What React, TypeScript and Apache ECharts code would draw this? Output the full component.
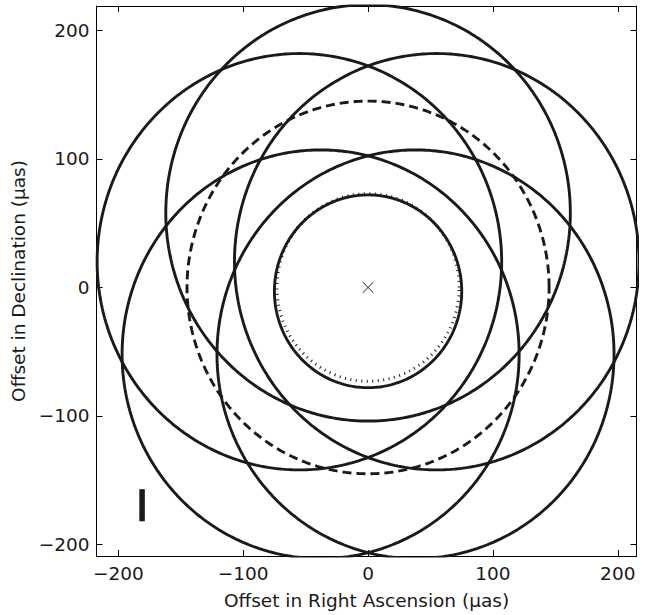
import { useEffect, useRef } from "react";
import * as echarts from "echarts";

// Solid rings: centre offsets and radii (μas)
const ringCenterX = [0, -55, 55, -38, 38, 0];
const ringCenterY = [58, 20, 20, -52, -52, -3];
const ringRadius = [162, 162, 162, 159, 159, 75];

// Reference rings centred on the origin
const dashedRadius = 145;
const dottedRadius = 73;

// Axis ticks
const xTickValues = [-200, -100, 0, 100, 200];
const yTickValues = [-200, -100, 0, 100, 200];

// Scale bar in the lower-left corner
const scaleBarX = [-181, -181];
const scaleBarY = [-182, -157];

const INK = "#1a1a1a";
const FONT = "DejaVu Sans";

function ringPoints(cx: number, cy: number, r: number): number[][] {
  const pts: number[][] = [];
  const n = 360;
  for (let i = 0; i <= n; i++) {
    const t = (i / n) * Math.PI * 2;
    pts.push([cx + r * Math.cos(t), cy + r * Math.sin(t)]);
  }
  return pts;
}

export default function App() {
  const ref = useRef<HTMLDivElement>(null);

  useEffect(() => {
    if (!ref.current) return;
    const chart = echarts.init(ref.current, undefined, { renderer: "svg" });

    const ringSeries = ringCenterX.map((cx, i) => ({
      type: "line",
      data: ringPoints(cx, ringCenterY[i], ringRadius[i]),
      showSymbol: false,
      smooth: false,
      clip: true,
      lineStyle: { color: INK, width: 2.9 },
      z: 3,
    }));

    const xAxisBase = {
      type: "value",
      min: -217.5,
      max: 215,
      splitLine: { show: false },
      axisLine: { show: true, onZero: false, lineStyle: { color: "#000", width: 1 } },
      axisTick: { show: true, inside: true, length: 6, customValues: xTickValues, lineStyle: { color: "#000" } },
    };
    const yAxisBase = {
      type: "value",
      min: -209,
      max: 219,
      splitLine: { show: false },
      axisLine: { show: true, onZero: false, lineStyle: { color: "#000", width: 1 } },
      axisTick: { show: true, inside: true, length: 6, customValues: yTickValues, lineStyle: { color: "#000" } },
    };
    const labelStyle = {
      fontFamily: FONT,
      fontSize: 18.5,
      color: INK,
      formatter: (v: number) => (v < 0 ? "\u2212" + Math.abs(v) : String(v)),
    };

    chart.setOption({
      animation: false,
      backgroundColor: "#fff",
      grid: { left: 96.5, right: 17.5, top: 6, bottom: 52, containLabel: false },
      xAxis: [
        {
          ...xAxisBase,
          position: "bottom",
          name: "Offset in Right Ascension (μas)",
          nameLocation: "middle",
          nameGap: 35,
          nameTextStyle: { fontFamily: FONT, fontSize: 18.5, color: INK },
          axisLabel: { ...labelStyle, margin: 8, customValues: xTickValues },
        },
        {
          ...xAxisBase,
          position: "top",
          axisLabel: { show: false },
        },
      ],
      yAxis: [
        {
          ...yAxisBase,
          position: "left",
          name: "Offset in Declination (μas)",
          nameLocation: "middle",
          nameGap: 60,
          nameTextStyle: { fontFamily: FONT, fontSize: 18.5, color: INK },
          axisLabel: { ...labelStyle, margin: 7, customValues: yTickValues },
        },
        {
          ...yAxisBase,
          position: "right",
          axisLabel: { show: false },
        },
      ],
      series: [
        ...ringSeries,
        {
          type: "line",
          data: ringPoints(0, 0, dashedRadius),
          showSymbol: false,
          clip: true,
          lineStyle: { color: INK, width: 2.9, type: [9, 5] },
          z: 3,
        },
        {
          type: "line",
          data: ringPoints(0, 0, dottedRadius),
          showSymbol: false,
          clip: true,
          lineStyle: { color: INK, width: 3, type: [1, 4.5] },
          z: 3,
        },
        {
          type: "line",
          data: scaleBarX.map((x, i) => [x, scaleBarY[i]]),
          showSymbol: false,
          lineStyle: { color: INK, width: 5.5, cap: "butt" },
          z: 4,
        },
        {
          type: "custom",
          data: [[0, 0]],
          z: 5,
          renderItem: (_params: any, api: any) => {
            const p = api.coord([api.value(0), api.value(1)]);
            const s = 5.3;
            const style = { stroke: INK, lineWidth: 1, fill: "none" };
            return {
              type: "group",
              children: [
                { type: "line", shape: { x1: p[0] - s, y1: p[1] - s, x2: p[0] + s, y2: p[1] + s }, style },
                { type: "line", shape: { x1: p[0] - s, y1: p[1] + s, x2: p[0] + s, y2: p[1] - s }, style },
              ],
            };
          },
        },
      ],
    });

    return () => chart.dispose();
  }, []);

  return (
    <div
      ref={ref}
      style={{ position: "fixed", left: 0, top: 0, width: 654, height: 615, background: "#fff" }}
    />
  );
}
